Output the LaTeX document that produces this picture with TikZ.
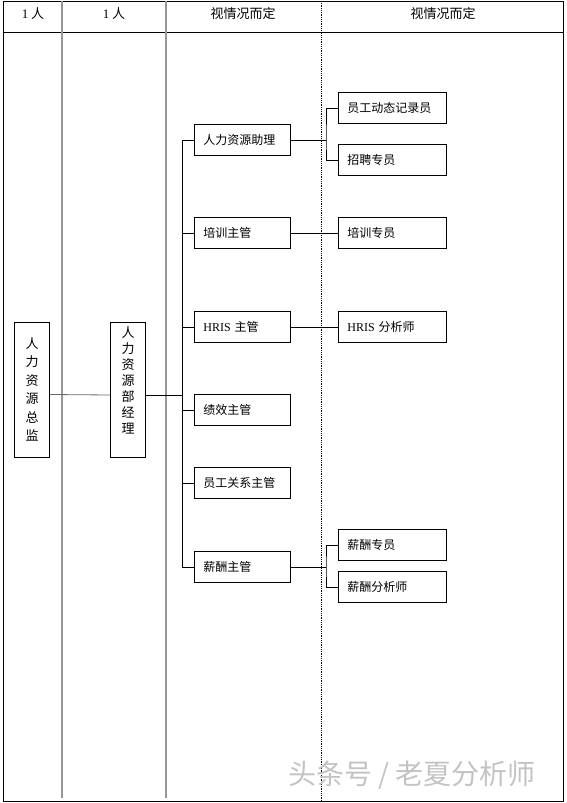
\documentclass[tikz,border=0pt]{standalone}
\usepackage{fontspec}
\setmainfont{Liberation Serif}
\newfontfamily\cjk{Noto Sans CJK SC}
\usepackage{xcolor}
\definecolor{gridgray}{RGB}{150,150,150}
\definecolor{markgray}{RGB}{195,195,195}
\usepackage{tikz}
\usetikzlibrary{positioning,calc}

\begin{document}
\begin{tikzpicture}[
  x=1pt, y=-1pt,
  headtext/.style={font=\cjk\fontsize{13}{15}\selectfont, inner sep=0pt},
  vbox/.style={draw, line width=0.8pt, font=\cjk\fontsize{13}{18.5}\selectfont, align=center, minimum width=35pt, minimum height=135pt, inner sep=2pt},
  lvtwo/.style={draw, line width=0.8pt, font=\cjk\fontsize{12}{14}\selectfont, anchor=west, text width=78pt, inner xsep=9pt, align=left, minimum height=31pt},
  lvthree/.style={lvtwo, text width=90pt},
  link/.style={line width=0.8pt}
]
\useasboundingbox (0,0) rectangle (566,803);

% table frame
\draw[line width=1pt] (3,1) rectangle (563,801);
\draw[line width=0.8pt] (3,32) -- (563,32);
\draw[gridgray, line width=1.2pt] (62,1) -- (62,798);
\draw[gridgray, line width=1.2pt] (166,1) -- (166,798);
\draw[densely dotted, line width=0.8pt] (321,1) -- (321,801);

% header
\node[headtext] (h1) at (33,14) {{\rmfamily 1} 人};
\node[headtext] (h2) at (114,14) {{\rmfamily 1} 人};
\node[headtext] (h3) at (243,14) {视情况而定};
\node[headtext] (h4) at (443,14) {视情况而定};

% first two levels
\node[vbox] (dir) at (32,389.5) {人\\力\\资\\源\\总\\监};
\node[vbox, font=\cjk\fontsize{13}{16}\selectfont] (mgr) at (128,390) {人\\力\\资\\源\\部\\经\\理\\[4pt]};

% supervisors
\node[lvtwo] (hra) at (194,140) {人力资源助理};
\node[lvtwo] (trn) at (194,233) {培训主管};
\node[lvtwo] (hris) at (194,327) {{\rmfamily HRIS} 主管};
\node[lvtwo] (perf) at (194,410) {绩效主管};
\node[lvtwo] (rel) at (194,483) {员工关系主管};
\node[lvtwo] (pay) at (194,567) {薪酬主管};

% staff
\node[lvthree] (rec) at (338,108) {员工动态记录员};
\node[lvthree] (hire) at (338,160) {招聘专员};
\node[lvthree] (trns) at (338,233) {培训专员};
\node[lvthree] (hrisa) at (338,327) {{\rmfamily HRIS} 分析师};
\node[lvthree] (pays) at (338,545) {薪酬专员};
\node[lvthree] (paya) at (338,587) {薪酬分析师};

\coordinate (fork) at (182,395);
\coordinate (sub) at (326,0);

% connectors
\draw[link, gridgray!70!black] ([yshift=-5pt]dir.east) -- ([yshift=-5pt]mgr.west);
\draw[link] ([yshift=-5pt]mgr.east) -- (fork);
\draw[link] (hra.west) -- (hra.west -| fork) -- (pay.west -| fork) -- (pay.west);
\foreach \n in {trn,hris,perf,rel}
  \draw[link] (\n.west) -- (\n.west -| fork);

\draw[link] (hra.east) -- (hra.east -| sub);
\draw[link] (rec.west) -| (hra.east -| sub) |- (hire.west);
\draw[link] (trn.east) -- (trns.west);
\draw[link] (hris.east) -- (hrisa.west);
\draw[link] (pay.east) -- (pay.east -| sub);
\draw[link] (pays.west) -| (pay.east -| sub) |- (paya.west);

% watermark
\node[text=markgray, font=\cjk\fontsize{28}{30}\selectfont] (mark) at (412,775) {头条号 / 老夏分析师};
\end{tikzpicture}
\end{document}
